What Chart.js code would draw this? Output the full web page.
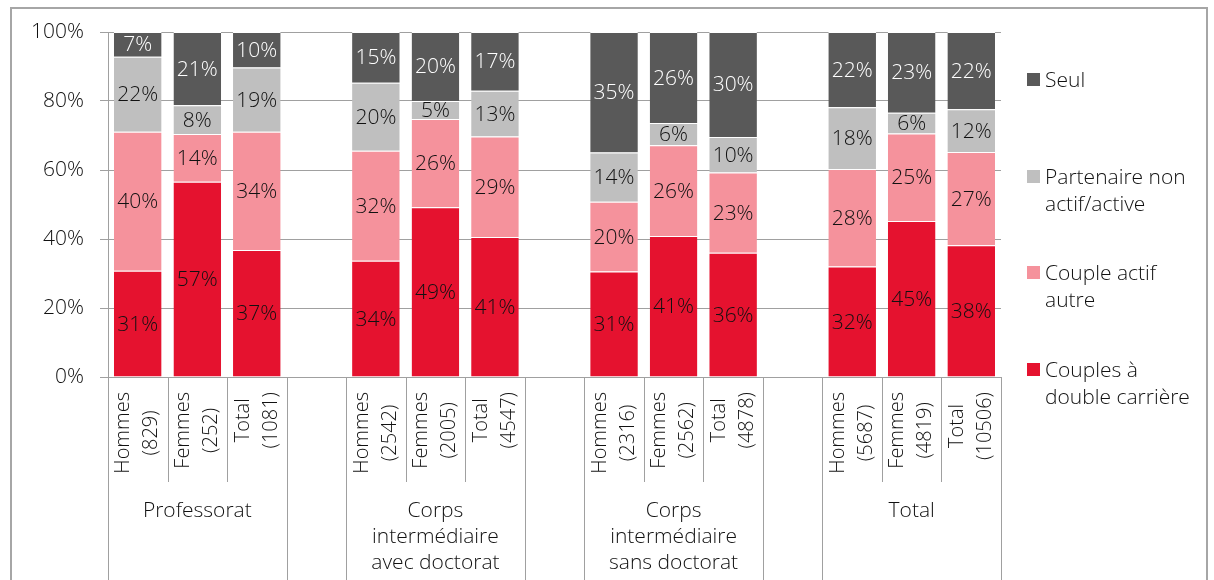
<!DOCTYPE html>
<html>
<head>
<meta charset="utf-8">
<script src="https://cdn.jsdelivr.net/npm/chart.js@4.4.1/dist/chart.umd.min.js"></script>
<style>
  html, body { margin:0; padding:0; background:#fff; }
  body { width:1214px; height:580px; overflow:hidden; position:relative; font-family:"Open Sans", sans-serif; }
  #frame { position:absolute; left:10px; top:7px; width:1198px; height:600px; border:2px solid #a6a6a6; box-sizing:border-box; }
  #wrap { position:absolute; left:0; top:0; width:1214px; height:580px; }
  #legend { position:absolute; left:1027px; top:0; }
  .item { position:absolute; left:0; white-space:nowrap; font-size:21px; font-weight:300; line-height:27px; color:#111; }
  .box { position:absolute; left:0; top:7px; width:13px; height:13px; }
  .txt { position:absolute; left:18px; top:0; }
</style>
</head>
<body>
<div id="frame"></div>
<div id="wrap"><canvas id="chart" width="1214" height="580"></canvas></div>
<div id="legend"></div>
<script>
// catégories (null = espace entre les groupes)
const categories = [
  ["Hommes","(829)"], ["Femmes","(252)"], ["Total","(1081)"], null,
  ["Hommes","(2542)"], ["Femmes","(2005)"], ["Total","(4547)"], null,
  ["Hommes","(2316)"], ["Femmes","(2562)"], ["Total","(4878)"], null,
  ["Hommes","(5687)"], ["Femmes","(4819)"], ["Total","(10506)"]
];
const groupLabels = [
  ["Professorat"],
  ["Corps","intermédiaire","avec doctorat"],
  ["Corps","intermédiaire","sans doctorat"],
  ["Total"]
];
const groupStart = [0, 4, 8, 12];
const groupSize = 3;

// valeurs en %
const doubleCarriere = [30.8,56.6,36.8,null, 33.7,49.2,40.6,null, 30.6,40.9,36.0,null, 32.0,45.2,38.2];
const coupleAutre    = [40.3,13.8,34.3,null, 31.9,25.6,29.1,null, 20.2,26.3,23.3,null, 28.3,25.4,27.0];
const partenaire     = [21.7, 8.4,18.6,null, 19.7, 5.2,13.3,null, 14.3, 6.4,10.3,null, 17.9, 6.0,12.4];
const seul           = [ 7.2,21.2,10.3,null, 14.7,20.0,17.0,null, 34.9,26.4,30.4,null, 21.8,23.4,22.4];

const yTicks = [0, 20, 40, 60, 80, 100];

const seriesNames  = [["Couples à","double carrière"], ["Couple actif","autre"], ["Partenaire non","actif/active"], ["Seul"]];
const seriesColors = ["#e5122f", "#f5929c", "#bfbfbf", "#595959"];
const labelColors  = ["#111", "#111", "#111", "#fff"];

const FONT = '"Open Sans", sans-serif';
Chart.defaults.font.family = FONT;
Chart.defaults.font.size = 21;
Chart.defaults.font.weight = 300;
Chart.defaults.color = "#111";

const datasets = [doubleCarriere, coupleAutre, partenaire, seul].map((d,i)=>({
  label: seriesNames[i].join(" "),
  data: d,
  backgroundColor: seriesColors[i],
  borderColor: "#ffffff",
  borderWidth: { top: 1 },
  borderSkipped: "bottom",
  barPercentage: 0.8,
  categoryPercentage: 1.0
}));

// étiquettes dans les barres
const valueLabels = {
  id:"valueLabels",
  afterDatasetsDraw(chart){
    const ctx = chart.ctx;
    ctx.save();
    ctx.font = "300 21px " + FONT;
    ctx.textAlign = "center";
    ctx.textBaseline = "middle";
    chart.data.datasets.forEach((ds,di)=>{
      const meta = chart.getDatasetMeta(di);
      meta.data.forEach((el,i)=>{
        const v = ds.data[i];
        if(v == null) return;
        ctx.fillStyle = labelColors[di];
        ctx.fillText(Math.round(v) + "%", el.x, (el.y + el.base)/2 + 1);
      });
    });
    ctx.restore();
  }
};

// axe des catégories à deux niveaux
const catAxis = {
  id:"catAxis",
  afterDraw(chart){
    const ctx = chart.ctx, x = chart.scales.x, area = chart.chartArea;
    const n = categories.length;
    const w = x.getPixelForValue(1) - x.getPixelForValue(0);
    const y0 = area.bottom;
    ctx.save();
    ctx.strokeStyle = "#a0a0a0";
    ctx.lineWidth = 1;
    for(let i=0;i<=n;i++){
      const px = Math.round(x.getPixelForValue(i) - w/2) + 0.5;
      const edge = i===0 || i===n || !categories[i] || !categories[i-1];
      ctx.beginPath();
      ctx.moveTo(px, y0);
      ctx.lineTo(px, edge ? chart.height : y0 + 105);
      ctx.stroke();
    }
    ctx.fillStyle = "#111";
    ctx.font = "300 20px " + FONT;
    ctx.textAlign = "center";
    ctx.textBaseline = "middle";
    categories.forEach((c,i)=>{
      if(!c) return;
      const cx = x.getPixelForValue(i);
      const maxW = Math.max(...c.map(s=>ctx.measureText(s).width));
      ctx.save();
      ctx.translate(cx, y0 + 15 + maxW/2);
      ctx.rotate(-Math.PI/2);
      c.forEach((s,k)=> ctx.fillText(s, 0, (k - (c.length-1)/2) * 28));
      ctx.restore();
    });
    ctx.font = "300 21px " + FONT;
    groupLabels.forEach((g,gi)=>{
      const a = x.getPixelForValue(groupStart[gi]);
      const b = x.getPixelForValue(groupStart[gi] + groupSize - 1);
      g.forEach((s,k)=> ctx.fillText(s, (a+b)/2, y0 + 134 + k*26));
    });
    ctx.restore();
  }
};

new Chart(document.getElementById("chart"), {
  type:"bar",
  data:{ labels: categories.map(c=> c ? c.join(" ") : ""), datasets },
  options:{
    responsive:false,
    animation:false,
    layout:{ padding:{ top:32, right:213, bottom:203, left:0 } },
    plugins:{ legend:{ display:false }, tooltip:{ enabled:false } },
    scales:{
      x:{
        stacked:true,
        grid:{ display:false },
        border:{ display:false },
        ticks:{ display:false },
        afterFit(s){ s.height = 0; }
      },
      y:{
        stacked:true,
        min:0, max:100,
        afterBuildTicks(s){ s.ticks = yTicks.map(v=>({ value:v })); },
        ticks:{ padding:16, color:"#111", callback:v=> v + "%" },
        grid:{ color:"#a0a0a0", tickLength:8, drawTicks:true },
        border:{ color:"#a0a0a0" },
        afterFit(s){ s.width = 108; }
      }
    }
  },
  plugins:[valueLabels, catAxis]
});

// légende (ordre inversé, comme dans l'original)
const legend = document.getElementById("legend");
seriesNames.map((n,i)=>({ n, c: seriesColors[i] })).reverse().forEach((it,k)=>{
  const d = document.createElement("div");
  d.className = "item";
  d.style.top = (66 + k*96.5) + "px";
  d.innerHTML = `<span class="box" style="background:${it.c}"></span><span class="txt">${it.n.join("<br>")}</span>`;
  legend.appendChild(d);
});
</script>
</body>
</html>
